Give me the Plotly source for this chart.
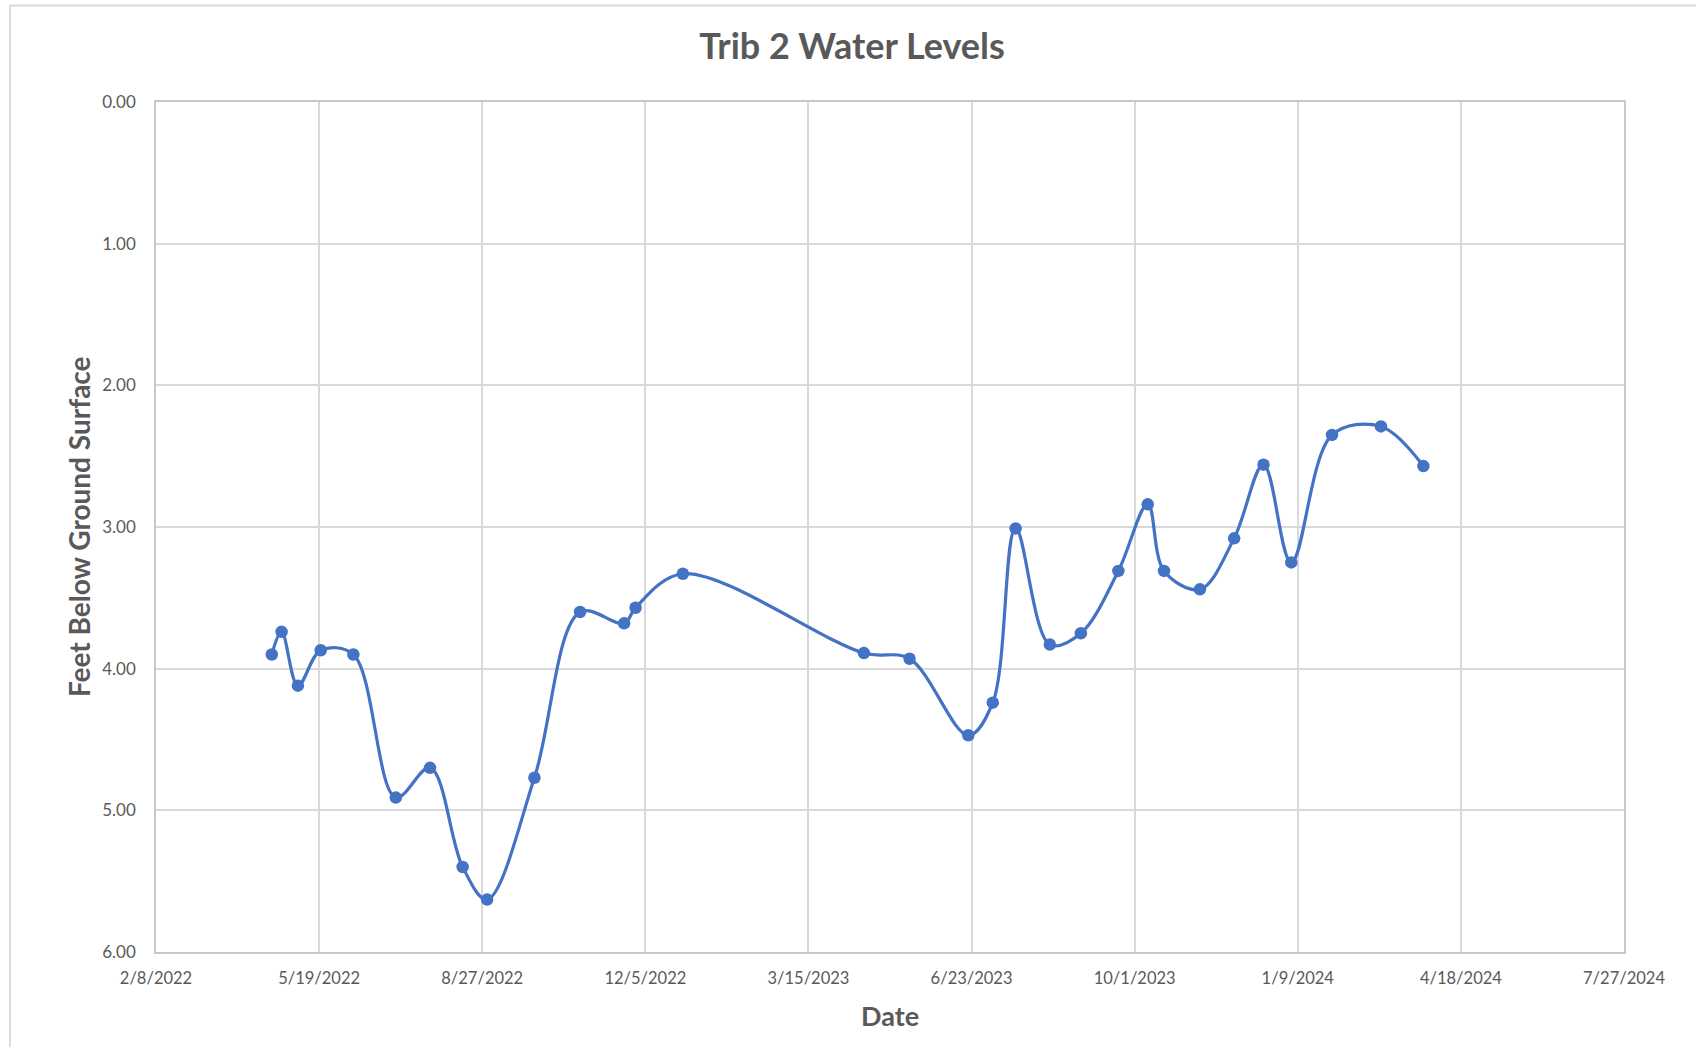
import pandas as pd
import plotly.graph_objects as go

dates = ["2022-04-20", "2022-04-26", "2022-05-06", "2022-05-20", "2022-06-09",
         "2022-07-05", "2022-07-26", "2022-08-15", "2022-08-30", "2022-09-28",
         "2022-10-26", "2022-11-22", "2022-11-29", "2022-12-28", "2023-04-18",
         "2023-05-16", "2023-06-21", "2023-07-06", "2023-07-20", "2023-08-10",
         "2023-08-29", "2023-09-21", "2023-10-09", "2023-10-19", "2023-11-10",
         "2023-12-01", "2023-12-19", "2024-01-05", "2024-01-30", "2024-02-29",
         "2024-03-26"]
levels = [3.90, 3.74, 4.12, 3.87, 3.90,
          4.91, 4.70, 5.40, 5.63, 4.77,
          3.60, 3.68, 3.57, 3.33, 3.89,
          3.93, 4.47, 4.24, 3.01, 3.83,
          3.75, 3.31, 2.84, 3.31, 3.44,
          3.08, 2.56, 3.25, 2.35, 2.29,
          2.57]
x_tick_labels = ["2/8/2022", "5/19/2022", "8/27/2022", "12/5/2022", "3/15/2023",
                 "6/23/2023", "10/1/2023", "1/9/2024", "4/18/2024", "7/27/2024"]
y_ticks = [0, 1, 2, 3, 4, 5, 6]

x_tick_vals = pd.to_datetime(x_tick_labels, format="%m/%d/%Y")

GRID = "#D9D9D9"
TXT = "#595959"
FONT = "Lato, Open Sans, sans-serif"

fig = go.Figure()
fig.add_trace(go.Scatter(
    x=pd.to_datetime(dates), y=levels, mode="lines+markers",
    line=dict(color="#4472C4", width=3.2, shape="spline", smoothing=1.0),
    marker=dict(color="#4472C4", size=12.5),
    showlegend=False,
))

fig.update_layout(
    width=1696, height=1047,
    margin=dict(l=156, r=71.5, t=101.5, b=95.3),
    paper_bgcolor="white", plot_bgcolor="white",
    title=dict(text="<b>Trib 2 Water Levels</b>", x=0.5024, xref="container", xanchor="center",
               y=1 - 46.5 / 1047, yref="container", yanchor="middle",
               font=dict(family=FONT, size=36, color=TXT)),
    font=dict(family=FONT, color=TXT),
)
fig.update_xaxes(
    type="date", range=[x_tick_vals[0], x_tick_vals[-1]],
    tickvals=x_tick_vals, ticktext=x_tick_labels,
    showgrid=True, gridcolor=GRID, gridwidth=1.5,
    showline=True, linecolor="#C8C8C8", linewidth=1.5, mirror=True,
    ticks="", ticklabelstandoff=10,
    tickfont=dict(size=16.5, color=TXT),
    zeroline=False,
)
fig.update_yaxes(
    range=[6, 0], tickvals=y_ticks, tickformat=".2f",
    showgrid=True, gridcolor=GRID, gridwidth=1.5,
    showline=True, linecolor="#C8C8C8", linewidth=1.5, mirror=True,
    ticks="", ticklabelstandoff=15,
    tickfont=dict(size=17, color=TXT),
    zeroline=False,
)
fig.add_annotation(text="<b>Date</b>", xref="paper", yref="paper", x=0.5, y=0,
                   xanchor="center", yanchor="middle", yshift=-63, showarrow=False,
                   font=dict(family=FONT, size=27, color=TXT))
fig.add_annotation(text="<b>Feet Below Ground Surface</b>", xref="paper", yref="paper",
                   x=0, y=0.5, xanchor="center", yanchor="middle", xshift=-77, textangle=-90,
                   showarrow=False, font=dict(family=FONT, size=28, color=TXT))
fig.add_shape(type="rect", xref="paper", yref="paper",
              x0=-0.0994, x1=1.06, y0=-0.13, y1=(951.7 - 5) / 850.2,
              line=dict(color="#D9D9D9", width=1.8), layer="below")

fig.write_html("out.html", config={"displayModeBar": False},
               post_script="document.body.style.margin='0';")
